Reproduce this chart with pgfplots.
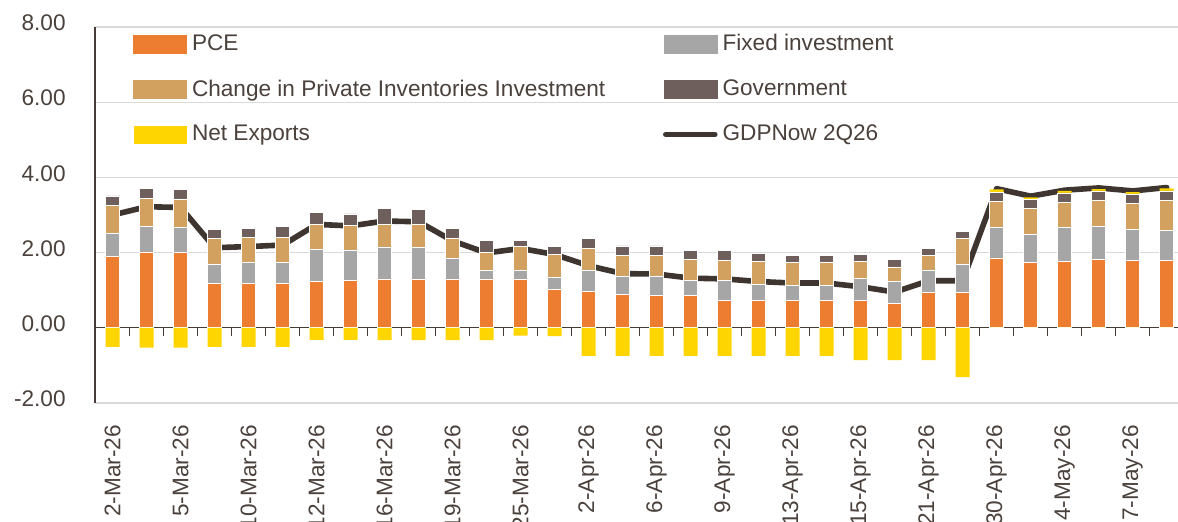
\documentclass[border=0pt]{standalone}
\usepackage{fontspec}
\setmainfont{Liberation Sans}
\usepackage{pgfplots}
\pgfplotsset{compat=1.18}
\usepackage{pgfplotstable}
\definecolor{pce}{RGB}{237,125,49}
\definecolor{fix}{RGB}{166,166,166}
\definecolor{inv}{RGB}{210,160,95}
\definecolor{gov}{RGB}{110,94,92}
\definecolor{nx}{RGB}{255,213,0}
\definecolor{gdp}{RGB}{62,53,48}
\definecolor{txt}{RGB}{75,65,60}
\definecolor{grd}{RGB}{217,217,217}
\definecolor{axc}{RGB}{70,60,55}
\pgfplotstableread{
i pce fix inv gov nxn nxp gdp
0 1.89 0.61 0.75 0.26 -0.51 0 3.00
1 2.02 0.68 0.75 0.25 -0.53 0 3.22
2 2.01 0.67 0.75 0.26 -0.53 0 3.20
3 1.19 0.51 0.67 0.25 -0.51 0 2.13
4 1.19 0.54 0.67 0.25 -0.51 0 2.16
5 1.19 0.54 0.67 0.30 -0.51 0 2.20
6 1.23 0.85 0.68 0.30 -0.32 0 2.75
7 1.25 0.82 0.66 0.30 -0.32 0 2.71
8 1.30 0.85 0.61 0.41 -0.33 0 2.84
9 1.30 0.84 0.61 0.39 -0.33 0 2.82
10 1.30 0.54 0.55 0.26 -0.33 0 2.31
11 1.30 0.22 0.49 0.31 -0.33 0 1.99
12 1.30 0.22 0.65 0.15 -0.21 0 2.11
13 1.03 0.30 0.62 0.22 -0.22 0 1.95
14 0.96 0.58 0.58 0.26 -0.75 0 1.65
15 0.88 0.50 0.55 0.25 -0.75 0 1.44
16 0.87 0.51 0.55 0.25 -0.75 0 1.43
17 0.87 0.39 0.56 0.24 -0.75 0 1.32
18 0.72 0.54 0.54 0.25 -0.75 0 1.30
19 0.72 0.44 0.61 0.20 -0.75 0 1.23
20 0.72 0.41 0.61 0.19 -0.75 0 1.19
21 0.72 0.41 0.62 0.18 -0.75 0 1.19
22 0.72 0.59 0.45 0.19 -0.86 0 1.09
23 0.65 0.58 0.39 0.19 -0.86 0 0.95
24 0.95 0.59 0.39 0.18 -0.86 0 1.25
25 0.95 0.75 0.67 0.19 -1.31 0 1.25
26 1.86 0.82 0.68 0.25 0 0.07 3.70
27 1.73 0.76 0.68 0.25 0 0.05 3.50
28 1.77 0.89 0.68 0.25 0 0.05 3.66
29 1.81 0.89 0.68 0.26 0 0.05 3.72
30 1.80 0.82 0.69 0.25 0 0.05 3.64
31 1.80 0.80 0.79 0.25 0 0.07 3.73
}\data
\begin{document}
\begin{tikzpicture}[font=\fontsize{11.3}{13.5}\selectfont]
\begin{axis}[
  at={(0,0)}, anchor=south west,
  scale only axis, width=544.34pt, height=188pt,
  xmin=-0.52, xmax=31.5, ymin=-2, ymax=8,
  ybar stacked, bar width=7pt,
  axis y line*=left, axis x line*=middle,
  hide obscured x ticks=false, hide obscured y ticks=false,
  axis line style={axc, line width=0.7pt},
  ytick={-2,0,2,4,6,8},
  yticklabels={-2.00,0.00,2.00,4.00,6.00,8.00},
  ymajorgrids, grid style={grd, line width=0.6pt},
  ytick style={draw=none},
  xtick={0,2,...,30},
  xticklabels={2-Mar-26,5-Mar-26,10-Mar-26,12-Mar-26,16-Mar-26,19-Mar-26,25-Mar-26,2-Apr-26,6-Apr-26,9-Apr-26,13-Apr-26,15-Apr-26,21-Apr-26,30-Apr-26,4-May-26,7-May-26},
  minor xtick={0.5,1.5,...,31.5},
  major tick length=0pt, minor tick length=4pt, tick align=outside,
  minor tick style={axc, line width=0.7pt},
  tick label style={text=txt, font=\fontsize{11.3}{13.5}\selectfont},
  yticklabel style={anchor=east, inner sep=0pt, xshift=-14.5pt, yshift=2pt},
  xticklabel style={inner sep=0pt, yshift=-48.5pt, rotate=90, anchor=east},
  legend columns=2,
  legend cell align=left,
  legend style={draw=none, fill=none, at={(axis description cs:0,1)}, anchor=north west,
    xshift=19pt, yshift=-3.5pt, inner sep=0pt, row sep=13pt, column sep=0pt,
    nodes={inner sep=0pt, text=txt}, font=\fontsize{11.3}{13.5}\selectfont,
    /tikz/every odd column/.append style={column sep=2.5pt}},
]
\addplot[fill=nx, draw=none, stack plots=false, forget plot] table[x=i,y=nxn]{\data};
\addplot[fill=pce, draw=white, line width=0.3pt,
  legend image code/.code={\fill[pce] (0pt,-4.5pt) rectangle (26.5pt,4.5pt);}] table[x=i,y=pce]{\data};
\addlegendentry{\makebox[235.5pt][l]{PCE}}
\addplot[fill=fix, draw=white, line width=0.3pt,
  legend image code/.code={\fill[fix] (0pt,-4.5pt) rectangle (26.5pt,4.5pt);}] table[x=i,y=fix]{\data};
\addlegendentry{Fixed investment}
\addplot[fill=inv, draw=white, line width=0.3pt,
  legend image code/.code={\fill[inv] (0pt,-4.5pt) rectangle (26.5pt,4.5pt);}] table[x=i,y=inv]{\data};
\addlegendentry{\makebox[235.5pt][l]{Change in Private Inventories Investment}}
\addplot[fill=gov, draw=white, line width=0.3pt,
  legend image code/.code={\fill[gov] (0pt,-4.5pt) rectangle (26.5pt,4.5pt);}] table[x=i,y=gov]{\data};
\addlegendentry{Government}
\addplot[fill=nx, draw=none,
  legend image code/.code={\fill[nx] (0pt,-4.5pt) rectangle (26.5pt,4.5pt);}] table[x=i,y=nxp]{\data};
\addlegendentry{\makebox[235.5pt][l]{Net Exports}}
\addplot[stack plots=false, sharp plot, draw=gdp, line width=2.8pt, line join=round, line cap=round, mark=none,
  legend image code/.code={\draw[gdp, line width=2.8pt, line cap=round] (1pt,0pt) -- (25.5pt,0pt);}] table[x=i,y=gdp]{\data};
\addlegendentry{GDPNow 2Q26}
\end{axis}
\pgfresetboundingbox
\path[use as bounding box] (-47.5pt,-59.5pt) rectangle (541.5pt,201.5pt);
\end{tikzpicture}
\end{document}
